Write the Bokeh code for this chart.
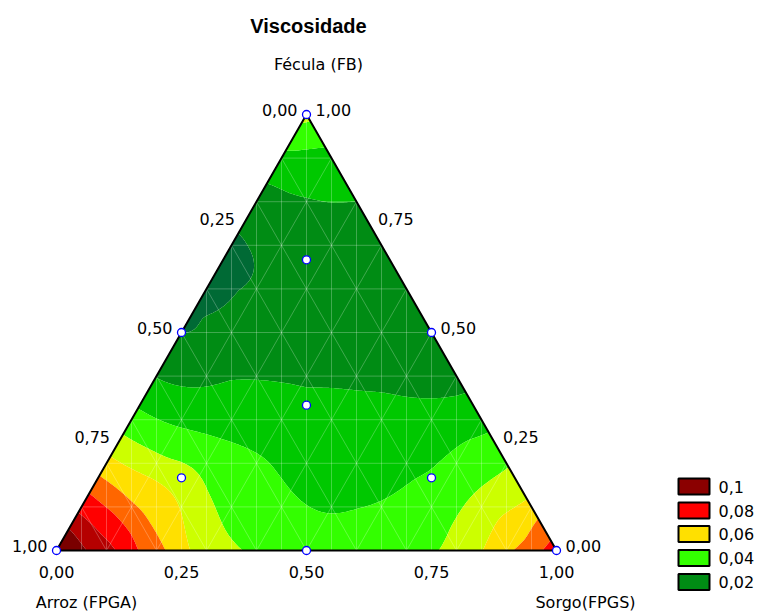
import numpy as np
from bokeh.plotting import figure
from bokeh.core.properties import value
from bokeh.embed import file_html
from bokeh.resources import INLINE

# ---------------- data ----------------
title_text = "Viscosidade"
name_top = "Fécula (FB)"
name_left = "Arroz (FPGA)"
name_right = "Sorgo(FPGS)"

tick_vals = [0.0, 0.25, 0.5, 0.75, 1.0]
tick_labels = ["0,00", "0,25", "0,50", "0,75", "1,00"]

# contour levels and fill colours (one colour per band)
levels = [-1.0, 0.02, 0.03, 0.04, 0.05, 0.06, 0.07, 0.08, 0.09, 0.10, 1.0]
band_colors = ["#006A35", "#008C14", "#00C800", "#33FF00", "#CCFF00",
               "#FFE000", "#FF6600", "#FF0000", "#B50000", "#7A0000"]

legend_labels = ["0,1", "0,08", "0,06", "0,04", "0,02"]
legend_colors = ["#8B0000", "#FF0000", "#FFE000", "#33FF00", "#008C14"]

# design points: fraction of Sorgo (S) and Fécula (F); Arroz = 1 - S - F
design_s = [0.0, 1.0, 0.0, 0.5, 0.0, 0.5, 1/3, 1/6, 2/3, 1/6]
design_f = [0.0, 0.0, 1.0, 0.0, 0.5, 0.5, 1/3, 1/6, 1/6, 2/3]
design_v = [0.110, 0.086, 0.052, 0.044, 0.020, 0.025, 0.035, 0.055, 0.041, 0.025]

# readings along the base (F = 0)
base_s = [0.06, 0.118, 0.164, 0.218, 0.268, 0.372, 0.764, 0.852, 0.914, 0.972]
base_v = [0.10, 0.09, 0.08, 0.07, 0.06, 0.05, 0.05, 0.06, 0.07, 0.08]

# readings along the left side (S = 0)
left_f = [0.05, 0.087, 0.131, 0.172, 0.216, 0.266, 0.326, 0.397, 0.62, 0.727, 0.842, 0.917, 0.98]
left_v = [0.10, 0.09, 0.08, 0.07, 0.06, 0.05, 0.04, 0.03, 0.017, 0.02, 0.03, 0.04, 0.05]

# readings along the right side (Arroz = 0)
right_f = [0.023, 0.073, 0.118, 0.191, 0.271, 0.362, 0.80, 0.925, 0.985]
right_v = [0.08, 0.07, 0.06, 0.05, 0.04, 0.03, 0.03, 0.04, 0.05]

# readings inside the triangle
inner_s = [0.153, 0.315, 0.473, 0.0585, 0.104, 0.153, 0.04,
           0.192, 0.354, 0.510, 0.554, 0.638, 0.696,
           0.1155, 0.233, 0.104, 0.202, 0.0905, 0.157, 0.0715, 0.1285, 0.0685,
           0.767, 0.762, 0.850, 0.923,
           0.0323, 0.066, 0.027, 0.025,
           0.2, 0.35, 0.1, 0.3, 0.45, 0.1]
inner_f = [0.390, 0.374, 0.362, 0.819, 0.807, 0.798, 0.92,
           0.259, 0.177, 0.085, 0.096, 0.167, 0.252,
           0.213, 0.138, 0.167, 0.092, 0.115, 0.062, 0.085, 0.039, 0.039,
           0.1216, 0.0528, 0.0757, 0.023,
           0.6995, 0.596, 0.534, 0.63,
           0.5, 0.45, 0.45, 0.6, 0.25, 0.87]
inner_v = [0.03, 0.03, 0.03, 0.03, 0.03, 0.03, 0.04,
           0.04, 0.04, 0.04, 0.04, 0.04, 0.04,
           0.05, 0.05, 0.06, 0.06, 0.07, 0.07, 0.08, 0.08, 0.09,
           0.05, 0.05, 0.06, 0.07,
           0.02, 0.02, 0.02, 0.0165,
           0.023, 0.026, 0.023, 0.025, 0.035, 0.035]

# ---------------- response surface (thin-plate spline through readings) ----------------
S = np.array(design_s + base_s + [0.0]*len(left_f) + [1 - f for f in right_f] + inner_s)
F = np.array(design_f + [0.0]*len(base_s) + left_f + right_f + inner_f)
V = np.array(design_v + base_v + left_v + right_v + inner_v)

ASPECT = 0.872  # triangle height / base in the reference
px = S + F / 2
py = F * ASPECT

def tps_kernel(r):
    with np.errstate(divide="ignore", invalid="ignore"):
        k = r**2 * np.log(r)
    return np.where(r > 0, k, 0.0)

n = len(V)
K = tps_kernel(np.hypot(px[:, None] - px[None, :], py[:, None] - py[None, :]))
P = np.column_stack([np.ones(n), px, py])
M = np.zeros((n + 3, n + 3))
M[:n, :n] = K + 1e-6 * np.eye(n)
M[:n, n:] = P
M[n:, :n] = P.T
sol = np.linalg.solve(M, np.concatenate([V, np.zeros(3)]))
w, a = sol[:n], sol[n:]

gx = np.linspace(0, 1, 301)
gy = np.linspace(0, 1, 261)
GX, GY = np.meshgrid(gx, gy)
qx = GX.ravel()
qy = GY.ravel() * ASPECT
Z = tps_kernel(np.hypot(qx[:, None] - px[None, :], qy[:, None] - py[None, :])) @ w
Z = Z + a[0] + a[1] * qx + a[2] * qy
Z = Z.reshape(GX.shape)

# ---------------- figure ----------------
W, H = 760, 613
X0, Y0, BASE, HT = 56, 550, 500, 436   # pixel position of the Arroz vertex, base length, height
p = figure(width=W, height=H, x_range=(-X0 / BASE, (W - X0) / BASE),
           y_range=(-(H - Y0) / HT, Y0 / HT),
           x_axis_type=None, y_axis_type=None, toolbar_location=None,
           output_backend="svg", min_border=0, outline_line_color=None)
p.background_fill_color = "white"
p.border_fill_color = "white"

p.contour(x=gx, y=gy, z=Z, levels=levels, fill_color=band_colors, line_color=None)

# mask outside the triangle
p.patch(x=[0, 0.5, 0.5, -0.05, -0.05], y=[0, 1, 1.05, 1.05, 0], fill_color="white", line_color=None)
p.patch(x=[1, 0.5, 0.5, 1.05, 1.05], y=[0, 1, 1.05, 1.05, 0], fill_color="white", line_color=None)

# faint mesh lines
gxs, gys = [], []
for k in range(1, 10):
    f = k / 10
    gxs.append([f / 2, 1 - f / 2]); gys.append([f, f])
    gxs.append([f, f + (1 - f) / 2]); gys.append([0, 1 - f])
    gxs.append([1 - f, (1 - f) / 2]); gys.append([0, 1 - f])
for k in range(1, 20):
    xv = k * 0.05
    gxs.append([xv, xv]); gys.append([0, 2 * min(xv, 1 - xv)])
p.multi_line(xs=gxs, ys=gys, line_color="white", line_alpha=0.25, line_width=1)

# triangle outline
p.line(x=[0, 1, 0.5, 0], y=[0, 0, 1, 0], line_color="black", line_width=2)

# design points
dx = [s + f / 2 for s, f in zip(design_s, design_f)]
p.scatter(x=dx, y=design_f, size=8, marker="circle", fill_color="white",
          line_color="#0000FF", line_width=1.3)

tick_font = value("DejaVu Sans")
# bottom ticks (Sorgo fraction)
p.text(x=tick_vals, y=[0] * 5, text=tick_labels, text_align="center", text_baseline="middle",
       y_offset=21, text_font=tick_font, text_font_size="16px", text_color="black")
# left side ticks
p.text(x=[f / 2 for f in tick_vals], y=tick_vals, text=tick_labels[::-1], text_align="right",
       text_baseline="middle", x_offset=-9, y_offset=-5, text_font=tick_font,
       text_font_size="16px", text_color="black")
# right side ticks
p.text(x=[1 - f / 2 for f in tick_vals], y=tick_vals, text=tick_labels, text_align="left",
       text_baseline="middle", x_offset=9, y_offset=-5, text_font=tick_font,
       text_font_size="16px", text_color="black")

# title and component names
p.text(x=[0.5], y=[1], text=[title_text], text_align="center", text_baseline="middle",
       x_offset=2, y_offset=-89, text_font=value("Liberation Sans"),
       text_font_style="bold", text_font_size="20px", text_color="black")
name_font = value("DejaVu Sans")
p.text(x=[0.5], y=[1], text=[name_top], text_align="center", text_baseline="middle",
       x_offset=12, y_offset=-50, text_font=name_font, text_font_size="16px", text_color="black")
p.text(x=[0], y=[0], text=[name_left], text_align="center", text_baseline="middle",
       x_offset=30, y_offset=52, text_font=name_font, text_font_size="16px", text_color="black")
p.text(x=[1], y=[0], text=[name_right], text_align="center", text_baseline="middle",
       x_offset=29, y_offset=52, text_font=name_font, text_font_size="16px", text_color="black")

# legend
leg_x = (693.5 - X0) / BASE
leg_y = [(Y0 - yy) / HT for yy in [486, 510, 533.5, 557.5, 581.5]]
p.rect(x=[leg_x] * 5, y=leg_y, width=31, height=16, width_units="screen", height_units="screen",
       fill_color=legend_colors, line_color="black", line_width=2)
p.text(x=[(718 - X0) / BASE] * 5, y=leg_y, text=legend_labels, text_align="left",
       text_baseline="middle", text_font=tick_font, text_font_size="16px", text_color="black")

open("out.html", "w").write(file_html(p, INLINE))
